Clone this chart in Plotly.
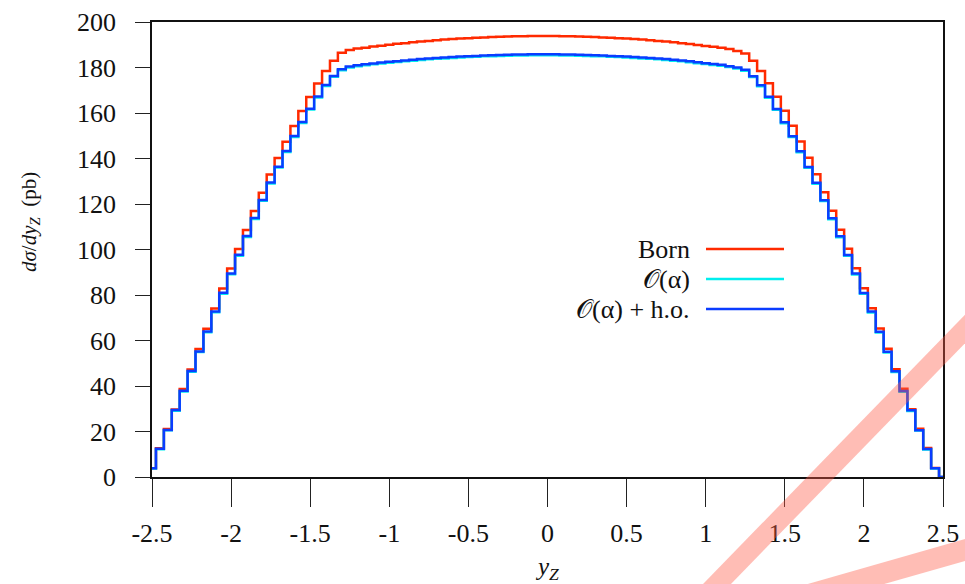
import numpy as np
import plotly.graph_objects as go

# bin positions (lower edges), plus closing point at 2.5
y_z = [round(-2.5 + 0.05 * k, 2) for k in range(101)]

born = [3.8, 12.6, 21.1, 29.7, 38.7, 47.3, 56.3, 65.2, 74.1, 82.9,
        91.7, 100.2, 108.6, 116.9, 125.0, 133.0, 140.2, 147.4, 154.3, 160.9,
        167.0, 173.0, 178.5, 183.0, 186.5, 187.7, 188.3, 188.7, 189.2, 189.6,
        190.0, 190.4, 190.7, 191.1, 191.4, 191.7, 192.0, 192.3, 192.5, 192.7,
        192.9, 193.1, 193.2, 193.4, 193.5, 193.6, 193.7, 193.7, 193.8, 193.8,
        193.8, 193.8, 193.7, 193.7, 193.6, 193.5, 193.4, 193.2, 193.1, 192.9,
        192.7, 192.5, 192.3, 192.0, 191.7, 191.4, 191.1, 190.7, 190.3, 189.9,
        189.5, 189.1, 188.7, 188.1, 187.3, 186.2, 183.0, 178.5, 173.1, 167.1,
        161.0, 154.4, 147.5, 140.3, 133.1, 125.2, 117.0, 108.7, 100.3, 91.8,
        83.0, 74.2, 65.3, 56.4, 47.4, 38.8, 29.8, 21.2, 12.7, 4.0, 0.0]

o_alpha = [3.7, 12.2, 20.5, 29.1, 37.6, 46.3, 54.9, 63.6, 72.4, 80.6,
           89.1, 97.3, 105.5, 113.4, 121.4, 129.0, 136.0, 142.9, 149.5, 155.6,
           161.5, 166.8, 171.9, 175.9, 178.8, 180.0, 180.6, 181.0, 181.4, 181.8,
           182.1, 182.4, 182.7, 183.0, 183.3, 183.6, 183.8, 184.0, 184.2, 184.4,
           184.6, 184.7, 184.9, 185.0, 185.1, 185.2, 185.3, 185.3, 185.4, 185.4,
           185.4, 185.4, 185.3, 185.3, 185.2, 185.1, 185.0, 184.9, 184.7, 184.6,
           184.4, 184.2, 184.0, 183.8, 183.6, 183.3, 183.0, 182.7, 182.3, 181.9,
           181.5, 181.1, 180.8, 180.2, 179.6, 178.6, 175.8, 171.8, 166.7, 161.4,
           155.5, 149.4, 142.8, 135.9, 128.9, 121.3, 113.3, 105.4, 97.2, 89.0,
           80.5, 72.3, 63.5, 54.7, 46.1, 37.5, 29.0, 20.4, 12.1, 3.7, 0.0]

o_alpha_ho = [3.8, 12.4, 20.7, 29.4, 37.9, 46.6, 55.2, 64.0, 72.8, 81.0,
              89.5, 97.7, 105.9, 113.8, 121.8, 129.4, 136.4, 143.3, 149.9, 156.0,
              161.9, 167.2, 172.3, 176.3, 179.2, 180.4, 181.0, 181.4, 181.8, 182.2,
              182.5, 182.8, 183.1, 183.4, 183.7, 184.0, 184.2, 184.4, 184.6, 184.8,
              185.0, 185.1, 185.3, 185.4, 185.5, 185.6, 185.7, 185.7, 185.8, 185.8,
              185.8, 185.8, 185.7, 185.7, 185.6, 185.5, 185.4, 185.3, 185.1, 185.0,
              184.8, 184.6, 184.4, 184.2, 184.0, 183.7, 183.4, 183.1, 182.7, 182.3,
              181.9, 181.5, 181.2, 180.6, 180.0, 179.0, 176.2, 172.2, 167.1, 161.8,
              155.9, 149.8, 143.2, 136.3, 129.3, 121.7, 113.7, 105.8, 97.6, 89.4,
              80.9, 72.7, 63.9, 55.1, 46.5, 37.8, 29.3, 20.6, 12.3, 3.8, 0.0]

x_ticks = [-2.5, -2, -1.5, -1, -0.5, 0, 0.5, 1, 1.5, 2, 2.5]
x_tick_text = ["-2.5", "-2", "-1.5", "-1", "-0.5", "0", "0.5", "1", "1.5", "2", "2.5"]
y_ticks = [0, 20, 40, 60, 80, 100, 120, 140, 160, 180, 200]

series_names = ["Born", "\U0001D4AA(α)", "\U0001D4AA(α) + h.o."]
series_colors = ["#ff2a00", "#00eeee", "#0a3cff"]
series_values = [born, o_alpha, o_alpha_ho]

FONT = "Liberation Serif"

fig = go.Figure()
for name, col, vals in zip(series_names, series_colors, series_values):
    fig.add_trace(go.Scatter(x=y_z, y=vals, mode="lines", name=name,
                             line=dict(color=col, width=2.5, shape="hvh"),
                             showlegend=False))

# pixel -> paper helpers (plot area 152..943 x, 22..477 y)
L, R, T, B = 152, 943, 22, 477
def px(x):
    return (x - L) / (R - L)
def py(y):
    return (B - y) / (B - T)

shapes = []
annotations = []
leg_y = [249, 279, 309]
for name, col, yy in zip(series_names, series_colors, leg_y):
    shapes.append(dict(type="line", xref="paper", yref="paper",
                       x0=px(706), x1=px(784), y0=py(yy), y1=py(yy),
                       line=dict(color=col, width=2.5)))
    annotations.append(dict(xref="paper", yref="paper", x=px(692), y=py(yy),
                            xanchor="right", yanchor="middle", showarrow=False,
                            text=name, font=dict(family=FONT, size=26, color="#111")))

# decorative translucent stripes
shapes.append(dict(type="line", xref="paper", yref="paper", layer="above",
                   x0=px(682), y0=py(620), x1=px(1000), y1=py(293),
                   line=dict(color="rgba(255,90,70,0.4)", width=20)))
shapes.append(dict(type="line", xref="paper", yref="paper", layer="above",
                   x0=px(790), y0=py(600), x1=px(1000), y1=py(540),
                   line=dict(color="rgba(255,90,70,0.4)", width=21)))

annotations.append(dict(xref="paper", yref="paper", x=px(30), y=py(222),
                        xanchor="center", yanchor="middle", showarrow=False,
                        textangle=-90,
                        text="<i>dσ</i>/<i>dy<sub>Z</sub></i>  (pb)",
                        font=dict(family=FONT, size=21, color="#111")))
annotations.append(dict(xref="paper", yref="paper", x=px(547), y=py(568),
                        xanchor="center", yanchor="middle", showarrow=False,
                        text="<i>y<sub>Z</sub></i>",
                        font=dict(family=FONT, size=25, color="#111")))

fig.update_layout(
    width=965, height=584,
    margin=dict(l=L, r=965 - R, t=T, b=584 - B, autoexpand=False),
    plot_bgcolor="white", paper_bgcolor="white",
    font=dict(family=FONT, size=26, color="#111"),
    shapes=shapes, annotations=annotations,
    xaxis=dict(range=[-2.5, 2.5], tickvals=x_ticks, ticktext=x_tick_text,
               showgrid=False, zeroline=False, showline=True, linecolor="#111",
               linewidth=1.5, mirror=True, ticks="outside", ticklen=28,
               tickcolor="#222", tickwidth=1.2, ticklabelstandoff=4,
               automargin=False),
    yaxis=dict(range=[0, 200], tickvals=y_ticks,
               showgrid=False, zeroline=False, showline=True, linecolor="#111",
               linewidth=1.5, mirror=True, ticks="outside", ticklen=15,
               tickcolor="#222", tickwidth=1.2, ticklabelstandoff=14,
               automargin=False),
)

fig.write_html("out.html", config={"displayModeBar": False},
               post_script="document.body.style.margin='0';document.body.style.overflow='hidden';")
